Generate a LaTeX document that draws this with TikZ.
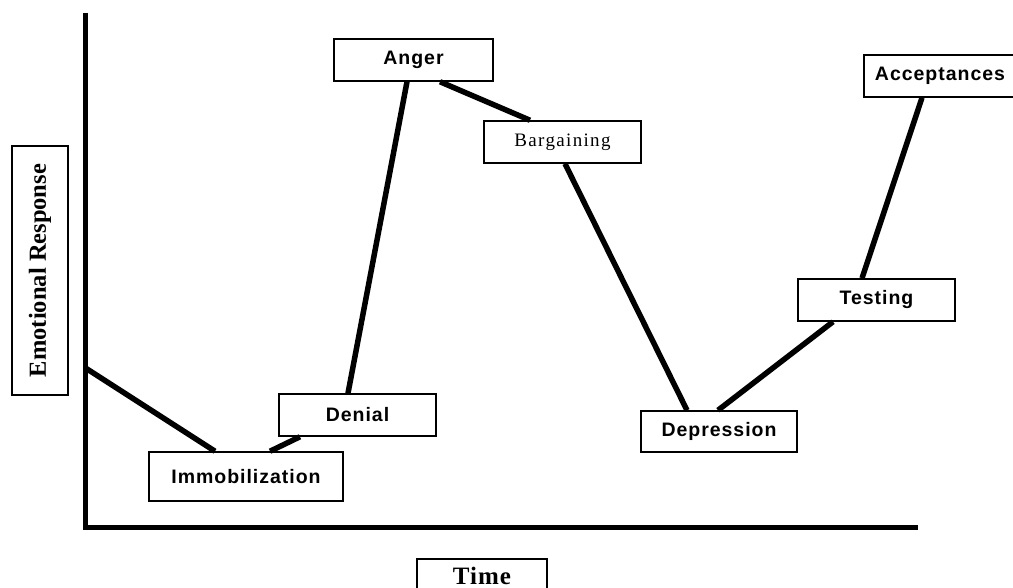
\documentclass[tikz,border=0pt]{standalone}
\usepackage{fontspec}
\setmainfont{Liberation Serif}
\newfontfamily\lab{Liberation Sans}[LetterSpace=5]
\newfontfamily\timesls{Liberation Serif}[LetterSpace=7]
\newfontfamily\timesax{Liberation Serif}[LetterSpace=4]
\usetikzlibrary{calc}
\begin{document}
\begin{tikzpicture}[x=1pt,y=-1pt,
  stage/.style={draw=black,line width=1.5pt,fill=white,inner sep=0pt,minimum height=42pt,
    font=\lab\bfseries\fontsize{19.5}{22}\selectfont},
  axislab/.style={draw=black,line width=1.3pt,inner sep=0pt},
  curve/.style={line width=5.5pt,black},
  axisline/.style={line width=5pt,black,line join=miter}]
\useasboundingbox (0,0) rectangle (1013,588);
% axes
\coordinate (ytop) at (85.5,13);
\coordinate (orig) at (85.5,527);
\coordinate (xend) at (918,527);
\coordinate (start) at (85.5,368);
\draw[axisline] (ytop) -- (orig) -- (xend);
% stages
\node[stage,minimum width=194pt,minimum height=49pt] (imm) at (246,476.5) {Immobilization};
\node[stage,minimum width=157pt] (den) at (357.5,415) {Denial};
\node[stage,minimum width=159pt] (ang) at (413.5,60) {Anger};
\node[stage,minimum width=157pt,font=\timesls\fontsize{19}{22}\selectfont] (bar) at (562.5,142) {Bargaining};
\node[stage,minimum width=156pt,minimum height=41pt] (dep) at (719,431.5) {Depression};
\node[stage,minimum width=157pt] (tes) at (876.5,300) {Testing};
\node[stage,minimum width=152pt] (acc) at (940,76) {Acceptances};
% axis labels
\node[axislab,rotate=90,minimum width=249pt,minimum height=56pt,
  font=\bfseries\fontsize{24.5}{28}\selectfont] (er) at (40,270.5) {Emotional Response};
\node[axislab,minimum width=130pt,minimum height=34pt,
  font=\timesax\bfseries\fontsize{25}{28}\selectfont] (time) at (482,576) {Time};
% connectors
\draw[curve] (start) -- ([xshift=-31pt]imm.north);
\draw[curve] ([xshift=24pt]imm.north) -- ([xshift=-57.5pt]den.south);
\draw[curve] ([xshift=-9.5pt]den.north) -- ([xshift=-6.5pt]ang.south);
\draw[curve] ([xshift=26.5pt]ang.south) -- ([xshift=-32.5pt]bar.north);
\draw[curve] ([xshift=2.5pt]bar.south) -- ([xshift=-32pt]dep.north);
\draw[curve] ([xshift=-1pt]dep.north) -- ([xshift=-43.5pt]tes.south);
\draw[curve] ([xshift=-14.5pt]tes.north) -- ([xshift=-18pt]acc.south);
\end{tikzpicture}
\end{document}
